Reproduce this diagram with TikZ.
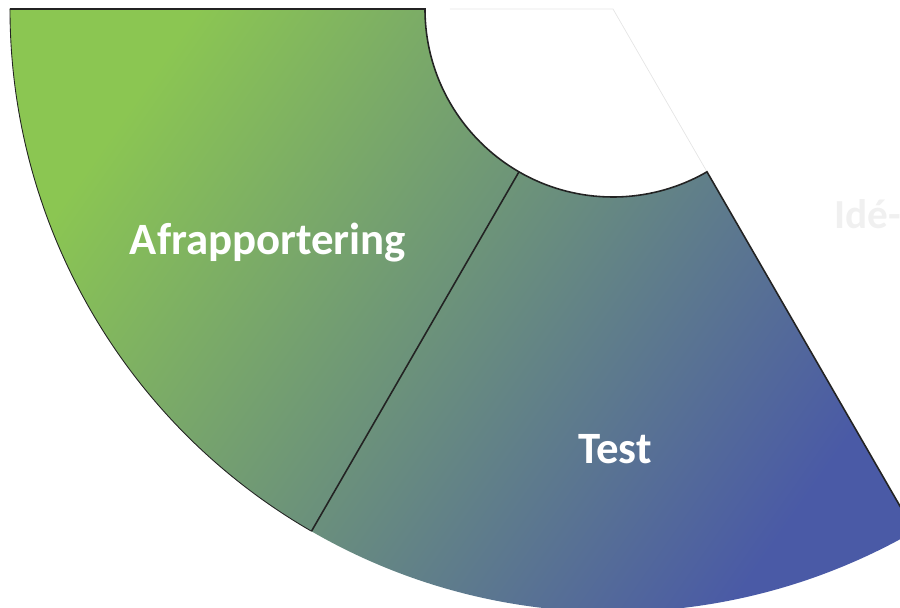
\documentclass[tikz,border=0pt]{standalone}
\usepackage{fontspec}
\setsansfont{Carlito}
\usepackage{tikz}
\usetikzlibrary{positioning, shapes}
\definecolor{groen}{RGB}{139, 198, 82}
\definecolor{midt}{RGB}{104, 150, 126}
\definecolor{blaa}{RGB}{74, 90, 166}
\definecolor{kant}{RGB}{35, 35, 35}
\tikzset{
    felt/.style={top color=groen, middle color=midt, bottom color=blaa, shading angle=55},
    kontur/.style={draw=kant, line width=0.9pt},
    svag/.style={draw=black!10, line width=0.4pt},
    etiket/.style={text=white, inner sep=0pt, font=\sffamily\bfseries\fontsize{25.5}{30}\selectfont},
}
\def\rinde{3.76}
\def\rude{12.06}

\begin{document}
\begin{tikzpicture}
        \useasboundingbox (-12.26,0.18) rectangle (5.74,-11.98);

        \coordinate (c) at (0,0);
        \coordinate (venstreYdre) at (180:\rude);
        \coordinate (venstreIndre) at (180:\rinde);
        \coordinate (deleYdre) at (240:\rude);
        \coordinate (deleIndre) at (240:\rinde);
        \coordinate (hoejreYdre) at (300:\rude);
        \coordinate (hoejreIndre) at (300:\rinde);
        \coordinate (topSvag) at (-3.26,0);

        \shade[felt] (venstreYdre) arc[start angle=180, end angle=300, radius=\rude]
            -- (hoejreIndre) arc[start angle=300, end angle=180, radius=\rinde] -- cycle;

        \draw[svag] (topSvag) -- (c) -- (hoejreIndre);

        \draw[kontur] (venstreYdre) -- (venstreIndre)
            arc[start angle=180, end angle=300, radius=\rinde] -- (hoejreYdre);
        \draw[kontur, line width=0.5pt] (venstreYdre) arc[start angle=180, end angle=240, radius=\rude];
        \draw[kontur] (deleIndre) -- (deleYdre);

        \node[etiket] (afrapportering) at (-6.9,-4.68) {Afrapportering};
        \node[etiket] (test) at (0.04,-8.8) {Test};
        % the next segment's label, cut at the edge as in the original
        \node[etiket, text=black!6, anchor=west, font=\sffamily\bfseries\fontsize{23.5}{28}\selectfont] (ide) at (4.42,-4.1) {Idé-};
    \end{tikzpicture}
\end{document}
